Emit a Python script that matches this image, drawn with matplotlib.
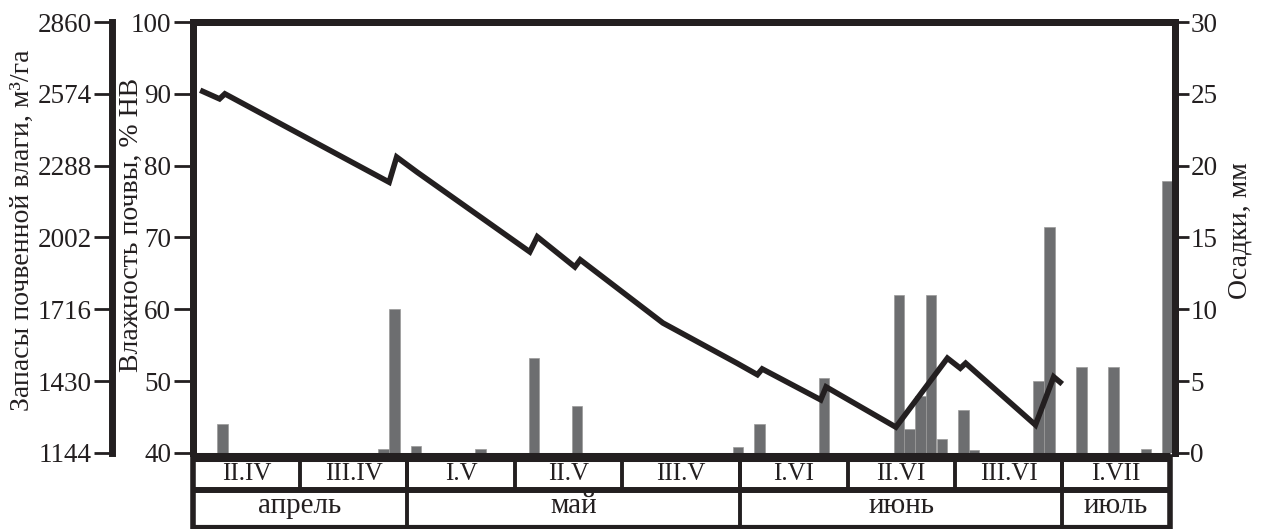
import numpy as np
import matplotlib
matplotlib.use('Agg')
import matplotlib.pyplot as plt

plt.rcParams['font.family'] = ['Liberation Serif', 'DejaVu Serif']

INK = '#231f20'
BAR = '#6d6e70'

# days counted from the start of II.IV
decades = ['II.IV', 'III.IV', 'I.V', 'II.V', 'III.V', 'I.VI', 'II.VI', 'III.VI', 'I.VII']
decade_len = [10, 10, 10, 10, 11, 10, 10, 10, 10]
months = ['апрель', 'май', 'июнь', 'июль']
month_len = [20, 31, 30, 10]

# daily precipitation, mm
rain_day = [2, 17, 18, 20, 26, 31, 35, 50, 52, 58, 65, 66, 67, 68, 69, 71, 72, 78, 79, 82, 85, 88, 90]
rain_mm = [2.0, 0.3, 10.0, 0.5, 0.3, 6.6, 3.3, 0.4, 2.0, 5.2, 11.0, 1.7, 4.0, 11.0, 1.0,
           3.0, 0.2, 5.0, 15.7, 6.0, 6.0, 0.3, 18.9]

# soil moisture, % of field capacity
moist_day = [0.7, 2.5, 3.0, 18.3, 19.0, 20.9, 31.4, 32.1, 35.6, 36.1, 43.8, 50.7, 52.6,
             53.05, 58.5, 59.0, 65.5, 70.3, 71.5, 72.0, 78.5, 80.2, 81.0]
moist = [90.5, 89.3, 90.0, 77.7, 81.2, 79.1, 68.0, 70.1, 65.9, 66.9, 58.1, 52.5, 50.9,
         51.7, 47.4, 49.2, 43.6, 53.2, 51.8, 52.5, 43.9, 50.6, 49.6]

moist_ticks = [40, 50, 60, 70, 80, 90, 100]
rain_ticks = [0, 5, 10, 15, 20, 25, 30]
stock_ticks = [1144, 1430, 1716, 2002, 2288, 2574, 2860]
STOCK_PER_PCT = 28.6

XMAX = 91.5
TICK_FS = 19.5

fig = plt.figure(figsize=(12.61, 5.29), dpi=100)
ax = fig.add_axes([0.1528, 0.1437, 0.779, 0.8147])
ax.set_xlim(0, XMAX)
ax.set_ylim(0, 30)
ax.bar(np.array(rain_day) + 0.3, rain_mm, width=0.98, align='edge',
       color=BAR, edgecolor='#9a9a9a', linewidth=0.5)
ax.set_xticks([])

axl = ax.twinx()
axl.set_ylim(40, 100)
axl.plot(moist_day, moist, color=INK, lw=4, solid_joinstyle='miter', solid_capstyle='butt')

# twinx moves the host ticks to the left, so swap sides afterwards
ax.yaxis.tick_right()
ax.set_yticks(rain_ticks)
ax.tick_params(axis='y', direction='out', length=10, width=2, pad=1,
               labelsize=TICK_FS, colors=INK)
axl.yaxis.tick_left()
axl.set_yticks(moist_ticks)
axl.tick_params(axis='y', direction='out', length=14, width=2, pad=1.5,
                labelsize=TICK_FS, colors=INK)

for a in (ax, axl):
    for side in ('left', 'right', 'top'):
        a.spines[side].set_linewidth(5)
        a.spines[side].set_color(INK)
    a.spines['bottom'].set_visible(False)

# water stock scale, proportional to moisture
sec = axl.secondary_yaxis(-0.082, functions=(lambda v: v * STOCK_PER_PCT,
                                              lambda v: v / STOCK_PER_PCT))
sec.set_yticks(stock_ticks)
sec.spines['left'].set_linewidth(5)
sec.spines['left'].set_color(INK)
sec.tick_params(axis='y', direction='out', length=13, width=2, pad=1.5,
                labelsize=TICK_FS, colors=INK)

fig.text(0.018, 0.565, 'Запасы почвенной влаги, м³/га', rotation=90,
         ha='center', va='center', fontsize=20, color=INK)
fig.text(0.104, 0.575, 'Влажность почвы, % НВ', rotation=90,
         ha='center', va='center', fontsize=20, color=INK)
fig.text(0.983, 0.565, 'Осадки, мм', rotation=90,
         ha='center', va='center', fontsize=20, color=INK)

# decade / month table under the plot
tab = fig.add_axes([0.1528, 0.0047, 0.779, 0.1305])
tab.set_xlim(0, XMAX)
tab.set_ylim(0, 1)
tab.axis('off')
MID = 0.53
tab.plot([0, 91], [1, 1], color=INK, lw=6.5, clip_on=False, solid_capstyle='butt')
tab.plot([0, 91], [MID, MID], color=INK, lw=4.3, clip_on=False, solid_capstyle='butt')
tab.plot([0, 91], [0, 0], color=INK, lw=3, clip_on=False, solid_capstyle='butt')
tab.plot([0, 0], [0, 1], color=INK, lw=4, clip_on=False)
tab.plot([91, 91], [0, 1], color=INK, lw=4, clip_on=False)

edges = np.concatenate([[0], np.cumsum(decade_len)])
for i, name in enumerate(decades):
    tab.text((edges[i] + edges[i + 1]) / 2, (MID + 1) / 2, name, ha='center', va='center',
             fontsize=18, color=INK)
for e in edges[1:-1]:
    tab.plot([e, e], [MID, 1], color=INK, lw=2.8, clip_on=False)

medges = np.concatenate([[0], np.cumsum(month_len)])
for i, name in enumerate(months):
    tab.text((medges[i] + medges[i + 1]) / 2, MID / 2 + 0.03, name, ha='center', va='center',
             fontsize=21, color=INK)
for e in medges[1:-1]:
    tab.plot([e, e], [0, 1], color=INK, lw=2.8, clip_on=False)

fig.savefig('out.png', dpi=100)
